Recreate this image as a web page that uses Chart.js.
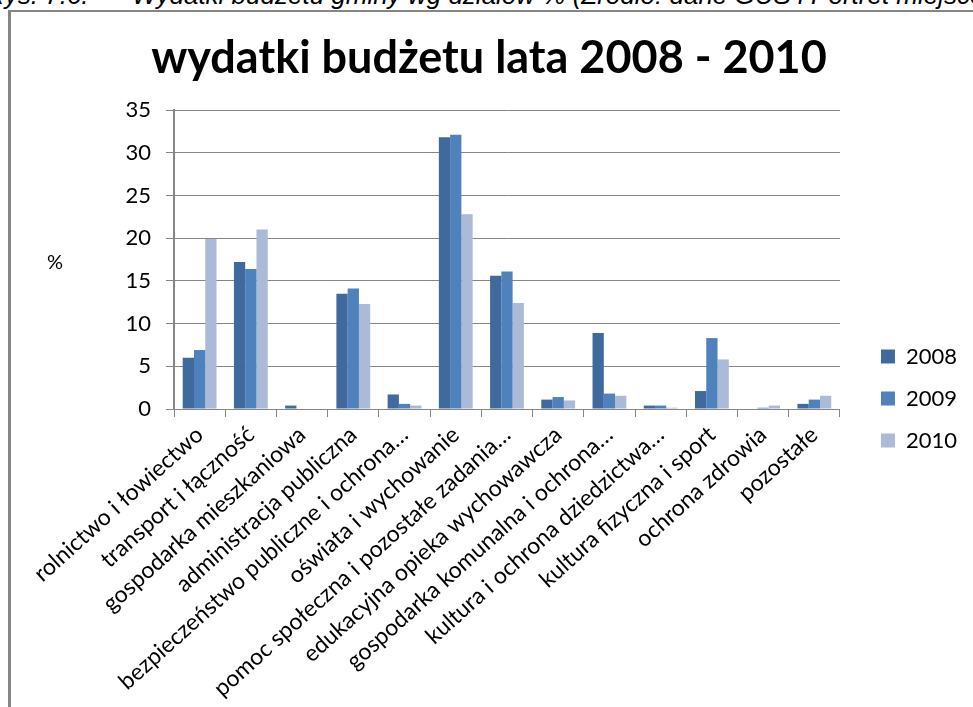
<!DOCTYPE html>
<html>
<head>
<meta charset="utf-8">
<script src="https://cdn.jsdelivr.net/npm/chart.js@4.4.1/dist/chart.umd.min.js"></script>
<style>
  html, body { margin: 0; padding: 0; background: #fff; width: 973px; height: 707px; overflow: hidden; }
  #caption { position: absolute; left: -14px; top: -17px; font: italic 26px "Liberation Sans", Arial, sans-serif; color: #000; white-space: pre; line-height: 25px; }
  #frame { position: absolute; left: 8px; top: 10px; width: 1000px; height: 800px; border-left: 3px solid #868686; border-top: 2px solid #868686; }
  #wrap { position: absolute; left: 11px; top: 12px; width: 962px; height: 695px; }
</style>
</head>
<body>
<div id="caption">Rys. 7.6.      Wydatki budżetu gminy wg działów % (Źródło: dane GUS i Portret miejscowości)</div>
<div id="frame"></div>
<div id="wrap"><canvas id="c" width="962" height="695"></canvas></div>
<script>
const categories = [
  "rolnictwo i łowiectwo",
  "transport i łączność",
  "gospodarka mieszkaniowa",
  "administracja publiczna",
  "bezpieczeństwo publiczne i ochrona…",
  "oświata i wychowanie",
  "pomoc społeczna i pozostałe zadania…",
  "edukacyjna opieka wychowawcza",
  "gospodarka komunalna i ochrona…",
  "kultura i ochrona dziedzictwa…",
  "kultura fizyczna i sport",
  "ochrona zdrowia",
  "pozostałe"
];
const seriesNames = ["2008", "2009", "2010"];
const values2008 = [6.0, 17.2, 0.4, 13.5, 1.7, 31.8, 15.6, 1.1, 8.9, 0.4, 2.1, 0.0, 0.6];
const values2009 = [6.9, 16.4, 0.0, 14.1, 0.6, 32.1, 16.1, 1.4, 1.8, 0.4, 8.3, 0.15, 1.1];
const values2010 = [19.9, 21.0, 0.0, 12.3, 0.4, 22.8, 12.4, 1.0, 1.55, 0.15, 5.8, 0.4, 1.55];
const yTicks = [0, 5, 10, 15, 20, 25, 30, 35];
const chartTitle = "wydatki budżetu lata 2008 - 2010";
const yUnit = "%";

const colors = ["#40699D", "#4F81BD", "#AABAD7"];
const gridColor = "#868686";
const FONT = 'Lato, "Open Sans", sans-serif';

const unitLabel = {
  id: 'unitLabel',
  afterDraw(chart) {
    const ctx = chart.ctx;
    const a = chart.chartArea;
    ctx.save();
    ctx.font = '20px ' + FONT;
    ctx.fillStyle = '#000';
    ctx.textAlign = 'center';
    ctx.textBaseline = 'middle';
    ctx.fillText(yUnit, a.left - 119, (a.top + a.bottom) / 2 + 3);
    ctx.restore();
  }
};

new Chart(document.getElementById('c'), {
  type: 'bar',
  data: {
    labels: categories,
    datasets: [
      { label: seriesNames[0], data: values2008, backgroundColor: colors[0] },
      { label: seriesNames[1], data: values2009, backgroundColor: colors[1] },
      { label: seriesNames[2], data: values2010, backgroundColor: colors[2] }
    ]
  },
  options: {
    responsive: false,
    animation: false,
    devicePixelRatio: 1,
    layout: { padding: { left: 0, right: 6, top: 0, bottom: 0 } },
    datasets: { bar: { barPercentage: 1.0, categoryPercentage: 0.66 } },
    plugins: {
      title: {
        display: true,
        text: chartTitle,
        color: '#000',
        font: { family: FONT, size: 45, weight: 'bold' },
        padding: { top: 19, bottom: 25 }
      },
      legend: {
        position: 'right',
        align: 'center',
        title: { display: true, text: ' ', font: { size: 10 }, padding: 33 },
        labels: {
          color: '#000',
          font: { family: FONT, size: 22 },
          boxWidth: 14,
          boxHeight: 14,
          padding: 20
        }
      },
      tooltip: { enabled: false }
    },
    scales: {
      x: {
        grid: { display: true, drawOnChartArea: false, drawTicks: true, tickLength: 8, color: gridColor, offset: true },
        border: { display: true, color: gridColor, width: 1 },
        ticks: {
          color: '#000',
          font: { family: FONT, size: 23 },
          minRotation: 42, maxRotation: 42, autoSkip: false, padding: 4
        },
        afterFit(s) { s.height = 298; }
      },
      y: {
        min: 0, max: 35,
        afterBuildTicks(s) { s.ticks = yTicks.map(v => ({ value: v })); },
        grid: { color: gridColor, lineWidth: 1, drawTicks: true, tickLength: 8 },
        border: { display: true, color: gridColor, width: 2 },
        ticks: {
          color: '#000',
          font: { family: FONT, size: 22 },
          padding: 15
        },
        afterFit(s) { s.width = 163; }
      },
      spacer: {
        type: 'linear',
        position: 'right',
        display: true,
        grid: { display: false, drawTicks: false },
        border: { display: false },
        ticks: { display: false },
        afterFit(s) { s.width = 21; }
      }
    }
  },
  plugins: [unitLabel]
});
</script>
</body>
</html>
